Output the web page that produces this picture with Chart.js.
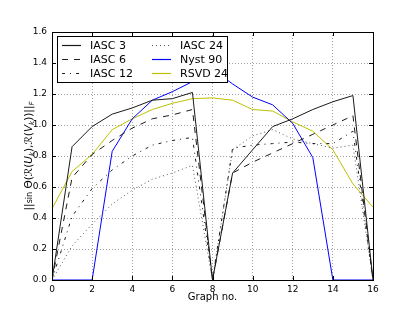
<!DOCTYPE html>
<html><head><meta charset="utf-8">
<script src="https://cdn.jsdelivr.net/npm/chart.js@4/dist/chart.umd.min.js"></script>
<style>html,body{margin:0;padding:0;background:#fff}canvas{display:block}</style>
</head><body>
<canvas id="c" width="415" height="312"></canvas>
<script>
const graphNo = [0,1,2,3,4,5,6,7,8,9,10,11,12,13,14,15,16];
const iasc3  = [0,0.86,0.99,1.07,1.11,1.16,1.17,1.21,0,0.69,0.84,0.99,1.04,1.10,1.15,1.19,0];
const iasc6  = [0,0.66,0.81,0.90,0.98,1.04,1.065,1.10,0,0.69,0.76,0.82,0.88,0.94,1.00,1.06,0];
const iasc12 = [0,0.41,0.59,0.71,0.80,0.87,0.90,0.92,0,0.85,0.87,0.88,0.89,0.88,0.88,0.96,0];
const iasc24 = [0,0.22,0.36,0.49,0.58,0.65,0.69,0.74,0,0.84,0.93,0.97,0.91,0.88,0.85,0.87,0];
const nyst90 = [0,0,0,0.83,1.04,1.16,1.215,1.28,1.36,1.265,1.18,1.13,1.01,0.79,0,0,0];
const rsvd24 = [0.46,0.70,0.81,0.97,1.04,1.10,1.14,1.17,1.175,1.16,1.10,1.09,1.02,0.96,0.84,0.62,0.47];
const xTicks = [0,2,4,6,8,10,12,14,16];
const yTicks = [0.0,0.2,0.4,0.6,0.8,1.0,1.2,1.4,1.6];
const seriesNames = ['IASC 3','IASC 6','IASC 12','IASC 24','Nyst 90','RSVD 24'];

const pts = arr => graphNo.map((g,i)=>({x:g,y:arr[i]}));
const styles = [
  {c:'#1a1a1a', d:[]},
  {c:'#1a1a1a', d:[6,6]},
  {c:'#1a1a1a', d:[3,5,1,5]},
  {c:'#555555', d:[1,3]},
  {c:'#0000ff', d:[]},
  {c:'#bfbf00', d:[]}
];
const allData = [iasc3,iasc6,iasc12,iasc24,nyst90,rsvd24];
const datasets = allData.map((a,i)=>({
  label: seriesNames[i], data: pts(a), borderColor: styles[i].c, borderDash: styles[i].d,
  borderWidth: 1, pointRadius: 0, fill:false, tension:0
}));

const frame = {
  id:'frame',
  afterDraw(chart){
    const {ctx, chartArea:a, scales} = chart;
    ctx.save();
    ctx.strokeStyle='#000'; ctx.lineWidth=1;
    xTicks.forEach(t=>{
      const x=Math.round(scales.x.getPixelForValue(t))+0.5;
      ctx.beginPath(); ctx.moveTo(x,a.bottom); ctx.lineTo(x,a.bottom-4);
      ctx.moveTo(x,a.top); ctx.lineTo(x,a.top+4); ctx.stroke();
    });
    yTicks.forEach(t=>{
      const y=Math.round(scales.y.getPixelForValue(t))+0.5;
      ctx.beginPath(); ctx.moveTo(a.left,y); ctx.lineTo(a.left+4,y);
      ctx.moveTo(a.right,y); ctx.lineTo(a.right-4,y); ctx.stroke();
    });
    ctx.strokeRect(Math.round(a.left)+0.5, Math.round(a.top)+0.5, Math.round(a.right-a.left), Math.round(a.bottom-a.top));
    // legend
    const bx=57.5, by=36.5, bw=170, bh=46;
    ctx.fillStyle='#fff'; ctx.fillRect(bx,by,bw,bh);
    ctx.strokeStyle='#000'; ctx.strokeRect(bx,by,bw,bh);
    ctx.font='11px "DejaVu Sans"'; ctx.textBaseline='middle'; ctx.textAlign='left';
    seriesNames.forEach((n,i)=>{
      const col = i<3?0:1, row=i%3;
      const lx = col===0?62:152, tx = col===0?90:180, y = 45.5+row*14;
      ctx.save();
      ctx.strokeStyle=styles[i].c; ctx.setLineDash(styles[i].d); ctx.lineWidth=1.2;
      ctx.beginPath(); ctx.moveTo(lx,y); ctx.lineTo(lx+19,y); ctx.stroke();
      ctx.restore();
      ctx.fillStyle='#000'; ctx.fillText(n,tx,y+0.5);
    });
    // y-axis title (math)
    const segs = [
      ['||','n'],['sin','s'],[' Θ(','n'],['ℛ','n'],['(','n'],['U','i'],['k','b'],['),','n'],
      ['ℛ','n'],['(','n'],['V','i'],['k','b'],['))||','n'],['F','b']
    ];
    const fontOf = s => s==='n'?'10.5px "DejaVu Sans"': s==='s'?'8px "DejaVu Sans"': s==='i'?'italic 10.5px "DejaVu Sans"':'italic 7px "DejaVu Sans"';
    let w=0; segs.forEach(([t,s])=>{ctx.font=fontOf(s); w+=ctx.measureText(t).width;});
    ctx.translate(28,(a.top+a.bottom)/2); ctx.rotate(-Math.PI/2);
    ctx.fillStyle='#000'; ctx.textBaseline='alphabetic';
    let x=-w/2;
    segs.forEach(([t,s])=>{ctx.font=fontOf(s); ctx.fillText(t,x,s==='b'?6:3.5); x+=ctx.measureText(t).width;});
    ctx.restore();
  }
};

new Chart(document.getElementById('c'), {
  type:'line',
  data:{datasets},
  options:{
    responsive:false, animation:false,
    layout:{padding:{left:0,right:42,top:32,bottom:0}},
    plugins:{legend:{display:false}, tooltip:{enabled:false}},
    scales:{
      x:{type:'linear', min:0, max:16,
        afterBuildTicks: s=>{s.ticks = xTicks.map(v=>({value:v}));},
        afterFit: s=>{s.height=32;},
        ticks:{padding:4, color:'#000', font:{family:'DejaVu Sans', size:9}, maxRotation:0, callback:v=>String(v)},
        grid:{drawTicks:false, color:'#888', lineWidth:0.8},
        border:{display:false, dash:[1,2]},
        title:{display:true, text:'Graph no.', color:'#000', font:{family:'DejaVu Sans', size:10}, padding:{top:0,bottom:9}}
      },
      y:{min:0, max:1.6,
        afterBuildTicks: s=>{s.ticks = yTicks.map(v=>({value:v}));},
        afterFit: s=>{s.width=52;},
        ticks:{padding:5, color:'#000', font:{family:'DejaVu Sans', size:9}, callback:v=>v.toFixed(1)},
        grid:{drawTicks:false, color:'#888', lineWidth:0.8},
        border:{display:false, dash:[1,2]}
      }
    }
  },
  plugins:[frame]
});
</script>
</body></html>
